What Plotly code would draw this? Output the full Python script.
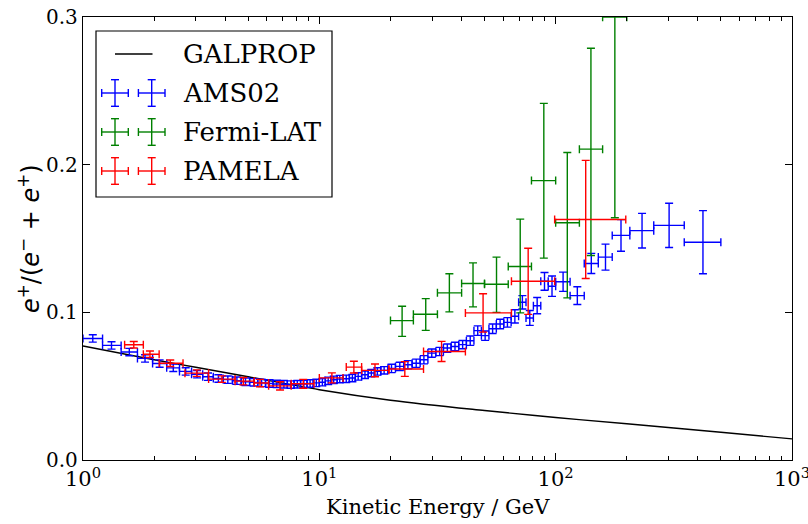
import plotly.graph_objects as go

# ---------------- data ----------------
galprop_E = [1, 2, 3, 5, 10, 20, 50, 100, 200, 500, 1000]
galprop_f = [0.0772, 0.0679, 0.0628, 0.0564, 0.0476, 0.0405, 0.0335, 0.0288, 0.0245, 0.0188, 0.0143]

ams_lo = [1.00, 1.21, 1.45, 1.70, 1.97, 2.26, 2.56, 2.88, 3.21, 3.56, 3.92, 4.29, 4.67, 5.07, 5.49,
          5.92, 6.37, 6.84, 7.32, 7.82, 8.33, 8.87, 9.42, 10.0, 10.6, 11.2, 11.9, 12.6, 13.4, 14.2,
          15.1, 16.1, 17.1, 18.2, 19.5, 21.0, 22.8, 24.7, 26.7, 28.8, 31.1, 33.5, 36.1, 38.9, 41.9,
          45.1, 48.5, 52.2, 56.1, 60.3, 64.8, 69.7, 74.9, 80.5, 86.5, 93.0, 100.0, 115.1, 132.1,
          151.5, 173.5, 206.0, 260.0, 350.0]
ams_hi = [1.21, 1.45, 1.70, 1.97, 2.26, 2.56, 2.88, 3.21, 3.56, 3.92, 4.29, 4.67, 5.07, 5.49, 5.92,
          6.37, 6.84, 7.32, 7.82, 8.33, 8.87, 9.42, 10.0, 10.6, 11.2, 11.9, 12.6, 13.4, 14.2, 15.1,
          16.1, 17.1, 18.2, 19.5, 21.0, 22.8, 24.7, 26.7, 28.8, 31.1, 33.5, 36.1, 38.9, 41.9, 45.1,
          48.5, 52.2, 56.1, 60.3, 64.8, 69.7, 74.9, 80.5, 86.5, 93.0, 100.0, 115.1, 132.1, 151.5,
          173.5, 206.0, 260.0, 350.0, 500.0]
ams_E = [1.10, 1.32, 1.57, 1.83, 2.11, 2.41, 2.72, 3.04, 3.38, 3.74, 4.10, 4.48, 4.87, 5.28, 5.70,
         6.14, 6.60, 7.08, 7.57, 8.07, 8.60, 9.14, 9.71, 10.3, 10.9, 11.5, 12.2, 13.0, 13.8, 14.6,
         15.6, 16.6, 17.6, 18.8, 20.2, 21.9, 23.7, 25.7, 27.7, 29.9, 32.3, 34.8, 37.5, 40.4, 43.5,
         46.8, 50.3, 54.1, 58.2, 62.5, 67.2, 72.3, 77.7, 83.5, 89.7, 96.5, 107.5, 123.5, 141.5,
         162.5, 189.0, 232.0, 302.0, 420.0]
ams_f = [0.0823, 0.0776, 0.0731, 0.0688, 0.0653, 0.0624, 0.0600, 0.0581, 0.0564, 0.0552, 0.0544,
         0.0537, 0.0530, 0.0526, 0.0522, 0.0518, 0.0515, 0.0513, 0.0511, 0.0513, 0.0515, 0.0518,
         0.0522, 0.0527, 0.0536, 0.0543, 0.0548, 0.0550, 0.0555, 0.0566, 0.0577, 0.0589, 0.0600,
         0.0607, 0.0620, 0.0634, 0.0645, 0.0655, 0.0679, 0.0724, 0.0735, 0.0758, 0.0769, 0.0781,
         0.0808, 0.0876, 0.0842, 0.0889, 0.0921, 0.0932, 0.0973, 0.1068, 0.0962, 0.1045, 0.1210,
         0.1177, 0.1207, 0.1113, 0.1331, 0.1374, 0.1521, 0.1553, 0.1589, 0.1475]
ams_err = [0.0025] * 34 + [0.0028] * 10 + [0.0032] * 6 + [0.0045, 0.0045, 0.0050, 0.0055, 0.0060,
           0.0069, 0.0065, 0.0060, 0.0068, 0.0088, 0.0107, 0.0117, 0.0150, 0.0214, 0.0340]

fermi_lo = [20.0, 25.0, 31.6, 40.0, 50.0, 63.0, 79.0, 100.0, 126.0, 158.0]
fermi_hi = [25.0, 31.6, 40.0, 50.0, 63.0, 79.0, 100.0, 126.0, 158.0, 200.0]
fermi_E = [22.4, 28.2, 35.5, 44.7, 56.2, 70.8, 89.1, 112.0, 141.0, 178.0]
fermi_f = [0.0944, 0.0987, 0.1132, 0.1195, 0.1190, 0.1310, 0.1892, 0.1607, 0.2105, 0.2999]
fermi_up = [0.0097, 0.0106, 0.0129, 0.0140, 0.0184, 0.0321, 0.0523, 0.0475, 0.0683, 0.1000]
fermi_dn = [0.0107, 0.0109, 0.0129, 0.0158, 0.0190, 0.0314, 0.0525, 0.0509, 0.0720, 0.1358]

pam_lo = [1.50, 1.80, 2.10, 2.70, 3.40, 4.40, 5.30, 6.10, 7.60, 10.0, 13.0, 15.1, 19.7, 27.6, 41.5, 65.0, 99.0]
pam_hi = [1.80, 2.10, 2.65, 3.40, 4.40, 5.30, 6.10, 7.60, 9.50, 12.6, 15.1, 19.7, 27.6, 41.5, 65.0, 99.0, 198.0]
pam_E = [1.64, 1.92, 2.34, 3.03, 3.87, 4.77, 5.61, 6.82, 8.55, 11.3, 14.0, 17.2, 23.0, 32.9, 49.3, 76.5, 134.0]
pam_f = [0.0780, 0.0716, 0.0655, 0.0588, 0.0548, 0.0534, 0.0521, 0.0502, 0.0516, 0.0556, 0.0629,
         0.0607, 0.0616, 0.0735, 0.0996, 0.1210, 0.1629]
pam_err = [0.0022, 0.0022, 0.0022, 0.0022, 0.0022, 0.0025, 0.0025, 0.0028, 0.0030, 0.0034, 0.0040,
           0.0043, 0.0050, 0.0068, 0.0130, 0.0224, 0.0400]

x_tickvals = [1, 10, 100, 1000]
x_ticktext = ['10<sup>0</sup>', '10<sup>1</sup>', '10<sup>2</sup>', '10<sup>3</sup>']
y_tickvals = [0.0, 0.1, 0.2, 0.3]
y_ticktext = ['0.0', '0.1', '0.2', '0.3']

legend_names = ['GALPROP', 'AMS02', 'Fermi-LAT', 'PAMELA']
BLUE, GREEN, RED = '#0000ff', '#008000', '#ff0000'
FONT = 'DejaVu Serif'

# ---------------- figure ----------------
fig = go.Figure()

fig.add_trace(go.Scatter(x=galprop_E, y=galprop_f, mode='lines', line=dict(color='black', width=1.4, shape='spline'),
                         showlegend=False, hoverinfo='skip'))


def err_trace(E, f, lo, hi, up, dn, color):
    return go.Scatter(
        x=E, y=f, mode='markers', marker=dict(size=1, opacity=0, color=color),
        error_x=dict(type='data', symmetric=False,
                     array=[h - e for h, e in zip(hi, E)],
                     arrayminus=[e - l for e, l in zip(E, lo)],
                     color=color, thickness=1.4, width=4),
        error_y=dict(type='data', symmetric=False, array=up, arrayminus=dn,
                     color=color, thickness=1.4, width=4),
        showlegend=False, hoverinfo='skip')


fig.add_trace(err_trace(ams_E, ams_f, ams_lo, ams_hi, ams_err, ams_err, BLUE))
fig.add_trace(err_trace(fermi_E, fermi_f, fermi_lo, fermi_hi, fermi_up, fermi_dn, GREEN))
fig.add_trace(err_trace(pam_E, pam_f, pam_lo, pam_hi, pam_err, pam_err, RED))

W, H = 808, 524
L, R, T, B = 83, 16, 17, 64
PW, PH = W - L - R, H - T - B


def px(x):
    return (x - L) / PW


def py(y):
    return (H - B - y) / PH


shapes = []
annotations = []
# legend box
shapes.append(dict(type='rect', xref='paper', yref='paper', x0=px(96), x1=px(332), y0=py(197), y1=py(31),
                   line=dict(color='black', width=1.2), fillcolor='white', layer='above'))
entry_y = [54, 93, 132, 171]
colors = ['black', BLUE, GREEN, RED]
for i, (name, c, ey) in enumerate(zip(legend_names, colors, entry_y)):
    if i == 0:
        shapes.append(dict(type='line', xref='paper', yref='paper', x0=px(115), x1=px(152.5), y0=py(ey), y1=py(ey),
                           line=dict(color='black', width=1.4), layer='above'))
    else:
        for cx in (115, 151.7):
            segs = [((cx - 13.3, ey), (cx + 13.3, ey)), ((cx, ey - 13.3), (cx, ey + 13.3)),
                    ((cx - 13.3, ey - 4), (cx - 13.3, ey + 4)), ((cx + 13.3, ey - 4), (cx + 13.3, ey + 4)),
                    ((cx - 4, ey - 13.3), (cx + 4, ey - 13.3)), ((cx - 4, ey + 13.3), (cx + 4, ey + 13.3))]
            for (a, b) in segs:
                shapes.append(dict(type='line', xref='paper', yref='paper', x0=px(a[0]), x1=px(b[0]),
                                   y0=py(a[1]), y1=py(b[1]), line=dict(color=c, width=1.4), layer='above'))
    annotations.append(dict(xref='paper', yref='paper', x=px(181), y=py(ey), text=name, showarrow=False,
                            xanchor='left', yanchor='middle', font=dict(family=FONT, size=26, color='black')))

# axis titles
annotations.append(dict(xref='paper', yref='paper', x=px(437.5), y=py(507), text='Kinetic Energy / GeV',
                        showarrow=False, xanchor='center', yanchor='middle',
                        font=dict(family=FONT, size=21, color='black')))
annotations.append(dict(xref='paper', yref='paper', x=px(29), y=py(238), textangle=-90,
                        text='<i>e</i><sup>+</sup>/(<i>e</i><sup>\u2212</sup> + <i>e</i><sup>+</sup>)',
                        showarrow=False, xanchor='center', yanchor='middle',
                        font=dict(family='DejaVu Sans', size=24, color='black')))

minor_vals = [m * d for d in (1, 10, 100) for m in range(2, 10)]

fig.update_layout(
    width=W, height=H, margin=dict(l=L, r=R, t=T, b=B, autoexpand=False),
    paper_bgcolor='white', plot_bgcolor='white',
    shapes=shapes, annotations=annotations, showlegend=False,
    xaxis=dict(type='log', range=[0, 3], showline=True, linecolor='black', linewidth=1.3, mirror='allticks',
               ticks='inside', ticklen=7, tickwidth=1, tickcolor='black', automargin=False,
               tickvals=x_tickvals, ticktext=x_ticktext, showgrid=False, zeroline=False,
               ticklabeloverflow='allow',
               minor=dict(tickvals=minor_vals, ticks='inside', ticklen=3.5, tickwidth=1, tickcolor='black', showgrid=False),
               tickfont=dict(family=FONT, size=21, color='black')),
    yaxis=dict(range=[0, 0.3], showline=True, linecolor='black', linewidth=1.3, mirror='allticks',
               ticks='inside', ticklen=7, tickwidth=1, tickcolor='black', automargin=False,
               tickvals=y_tickvals, ticktext=y_ticktext, showgrid=False, zeroline=False,
               tickfont=dict(family=FONT, size=20, color='black')),
)

fig.write_html('out.html')
